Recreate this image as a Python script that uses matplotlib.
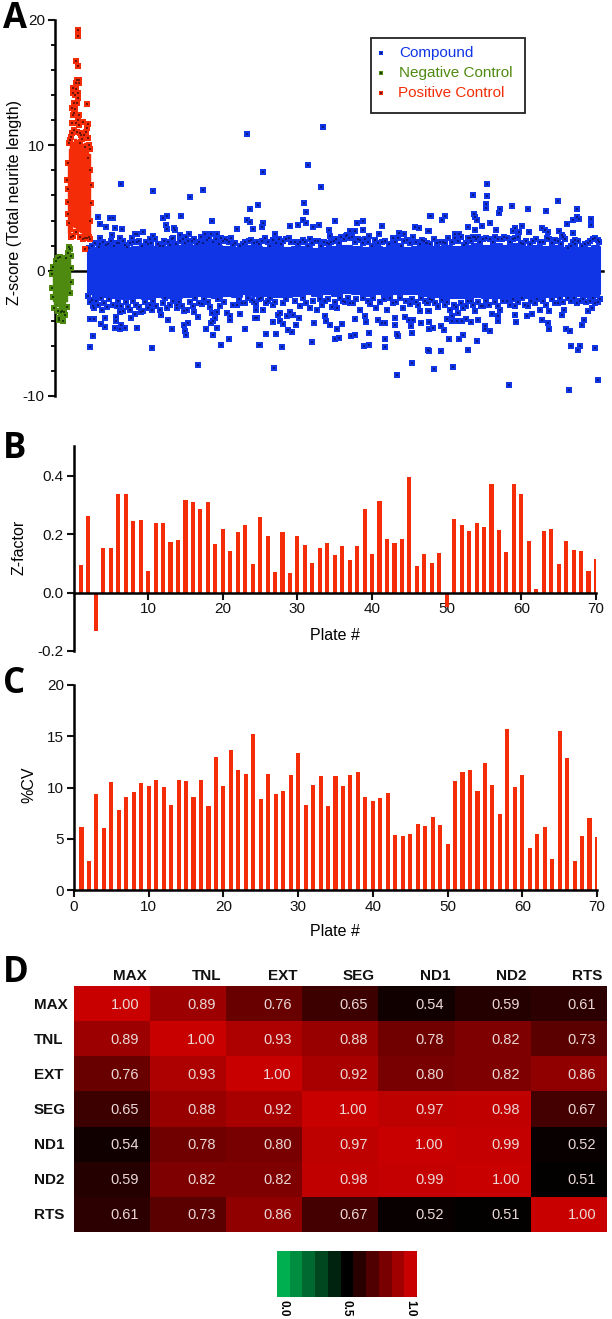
import numpy as np
import matplotlib
matplotlib.use('Agg')
import matplotlib.pyplot as plt
from matplotlib.colors import LinearSegmentedColormap
from matplotlib.patches import Rectangle

W = 612
H = 1319
plt.rcParams['font.family'] = ['Liberation Sans', 'DejaVu Sans']
plt.rcParams['axes.unicode_minus'] = False

BLUE = '#0f35e6'
GREEN = '#4f8a10'
RED = '#f42c08'
DARK_BLUE = '#0a1a80'
DARK_GREEN = '#1c3a08'
DARK_RED = '#701408'

# panel A, dense part of each group (position along the run, z-score limits)
band_x = [88, 97, 107, 117, 127, 137, 147, 157, 167, 177, 187, 197, 207, 217, 227, 237, 247, 257,
          267, 277, 287, 297, 307, 317, 327, 337, 347, 357, 367, 377, 387, 397, 407, 417, 427, 437,
          447, 457, 467, 477, 487, 497, 507, 517, 527, 537, 547, 557, 567, 577, 587, 597, 600]
band_hi = [1.6, 1.8, 1.9, 1.9, 1.8, 1.9, 2.0, 1.9, 1.9, 2.0, 2.1, 2.0, 2.1, 2.0, 1.9, 1.8, 2.0, 1.9,
           1.8, 1.9, 1.8, 1.9, 1.9, 1.7, 1.8, 1.9, 2.0, 1.9, 1.8, 1.9, 1.8, 2.0, 1.8, 1.9, 1.9, 1.9,
           2.0, 1.9, 2.0, 2.1, 2.0, 2.1, 2.0, 2.1, 1.9, 2.0, 1.9, 2.0, 1.8, 1.8, 1.8, 2.0, 1.9]
band_lo = [-1.9, -2.2, -2.1, -2.2, -2.3, -2.2, -2.3, -2.1, -2.2, -2.2, -2.1, -2.0, -2.1, -2.2, -2.0, -2.1, -1.9, -2.0,
           -2.0, -2.1, -2.1, -2.0, -1.9, -2.0, -1.9, -2.0, -1.8, -1.9, -2.0, -1.9, -2.0, -1.9, -1.9, -1.9, -2.0, -2.1,
           -2.2, -2.2, -2.2, -2.1, -2.2, -2.2, -2.1, -2.2, -2.2, -2.1, -2.1, -2.1, -2.0, -2.0, -2.1, -2.1, -1.9]

# panel A, single compounds that stand clear of the band
compound_x = [247, 121, 153, 203, 190, 258, 250, 98, 110, 113, 163, 167, 181, 212, 247, 250, 100, 106, 115, 122,
              166, 167, 174, 175, 237, 253, 143, 112, 135, 137, 153, 150, 180, 189, 205, 211, 217, 100, 120, 132,
              164, 173, 186, 201, 221, 227, 198, 152, 90, 93, 229, 221, 259, 186, 213, 185, 245, 217, 206, 172,
              137, 125, 120, 115, 105, 101, 121, 116, 168, 188, 184, 211, 213, 198, 230, 105, 90, 94, 131, 257,
              116, 152, 135, 141, 102, 120, 161, 177, 184, 194, 217, 240, 256,
              323, 308, 263, 321, 304, 306, 303, 306, 335, 357, 363, 263, 262, 290, 298, 313, 319, 382, 415, 419,
              430, 329, 350, 355, 363, 428, 399, 404, 275, 253, 347, 330, 369, 379, 265,
              274, 397, 412, 428, 312, 260, 282, 364, 369, 385, 385, 335, 339, 351, 355, 369, 397, 398, 412, 266,
              276, 288, 292, 337, 330, 342, 314, 296, 273, 283, 280, 326, 366, 382, 385, 395, 411, 429, 421, 429,
              255, 299, 355, 378, 409, 413, 325, 278, 287, 405, 395, 420, 428,
              487, 473, 487, 486, 486, 558, 512, 528, 546, 577, 500, 499, 431, 445, 442, 474, 475, 477, 490, 482,
              468, 475, 496, 522, 515, 513, 519, 529, 542, 545, 548, 559, 567, 573, 577, 579, 591, 591, 573, 429,
              455, 459, 470, 475, 562, 575, 593,
              509, 569, 598, 434, 453, 429, 441, 468, 571, 580, 578, 595, 449, 459, 463, 477, 441, 444, 429, 433,
              429, 485, 490, 485, 498, 516, 542, 548, 549, 566, 570, 582, 584, 478, 471, 466, 462, 457, 452, 447,
              498, 527, 532, 562, 564, 588, 592, 429, 438]
compound_z = [10.9, 6.88, 6.37, 6.43, 5.9, 5.23, 4.89, 4.25, 4.2, 4.22, 4.2, 4.36, 4.36, 3.96, 4.01, 3.88, 3.69, 3.5, 3.43, 3.32,
              3.64, 3.29, 3.37, 3.21, 3.35, 3.35, 3.05, 2.84, 2.92, 2.95, 2.76, 2.52, 2.82, 2.95, 2.95, 2.9, 2.95, 2.58, 2.58, 2.58,
              2.36, 2.63, 2.68, 2.66, 2.63, 2.47, -7.54, -6.14, -6.06, -5.18, -5.42, -5.92, -5.92, -5.1, -5.1, -4.83, -4.65, -4.57, -4.65, -4.65,
              -4.57, -4.57, -4.65, -4.6, -4.49, -4.22, -4.33, -4.04, -3.96, -4.2, -4.3, -4.2, -4.04, -3.69, -3.9, -3.8, -3.82, -3.88, -3.8, -3.77,
              -3.67, -3.16, -3.43, -3.32, -3.16, -3.27, -3.56, -3.0, -3.21, -3.32, -3.32, -3.45, -3.11,
              11.45, 8.47, 7.91, 6.69, 5.42, 4.67, 4.01, 3.77, 3.96, 3.82, 3.96, 3.77, 3.45, 3.53, 3.67, 3.48, 3.61, 3.53, 3.48, 3.43,
              4.38, 3.24, 3.13, 3.16, 3.24, 3.13, 3.0, 2.95, 2.95, 3.35, 2.84, 2.74, 2.79, 2.92, 2.58,
              -7.73, -8.29, -7.38, -6.35, -5.66, -5.9, -6.08, -6.03, -5.9, -6.06, -5.47, -5.44, -5.34, -5.21, -5.13, -4.97, -5.07, -5.23, -4.97, -5.02,
              -5.07, -4.75, -4.91, -4.65, -4.33, -4.28, -4.2, -4.33, -4.12, -4.22, -4.04, -4.01, -4.09, -4.17, -4.2, -4.3, -4.44, -4.62, -4.2, -4.09,
              -3.75, -3.8, -3.82, -3.9, -3.93, -3.93, -3.64, -3.5, -3.64, -3.69, -3.77, -3.24, -3.24,
              6.88, 6.0, 5.92, 5.29, 5.02, 5.52, 5.13, 4.94, 4.75, 4.94, 4.89, 4.62, 4.38, 4.33, 4.06, 4.49, 4.28, 4.01, 3.77, 3.56,
              3.5, 3.21, 3.24, 3.56, 3.43, 3.13, 3.05, 3.05, 3.43, 3.24, 3.11, 3.13, 3.69, 4.04, 4.28, 4.12, 4.09, 3.64, 2.97, 3.13,
              2.9, 2.9, 2.63, 2.68, 2.87, 2.47, 2.52,
              -9.11, -9.54, -8.69, -7.81, -7.68, -6.37, -6.43, -6.29, -5.98, -6.03, -6.29, -6.14, -5.44, -5.42, -5.15, -5.58, -4.44, -4.73, -4.62, -4.54,
              -4.09, -4.44, -4.78, -4.65, -4.01, -4.09, -3.96, -4.17, -4.62, -4.62, -4.81, -4.3, -3.96, -3.93, -4.09, -3.85, -3.98, -4.01, -4.04, -3.82,
              -3.64, -3.59, -3.43, -3.5, -3.11, -3.24, -2.97, -3.21, -2.92]

# panel A, compounds along the top and bottom edge of the band
fringe_x = [257, 265, 273, 279, 286, 289, 295, 300, 303, 310, 318, 327, 331, 336, 341, 346, 352, 360, 365, 375, 382, 393, 398, 407, 413, 422, 426,
            256, 263, 268, 273, 280, 290, 293, 300, 310, 317, 325, 332, 337, 345, 353, 360, 365, 370, 376, 387, 393, 403, 410, 418, 427,
            100, 106, 117, 125, 130, 137, 148, 160, 170, 180, 192, 197, 207, 223, 233, 243, 251,
            92, 94, 98, 107, 117, 123, 130, 143, 148, 160, 167, 177, 187, 193, 202, 212, 215, 227, 230, 237, 245, 252,
            427, 440, 445, 455, 464, 468, 473, 478, 483, 490, 495, 502, 507, 515, 523, 533, 540, 549, 555, 563, 568, 575, 582, 588, 593, 598,
            428, 432, 442, 445, 450, 452, 458, 463, 468, 475, 483, 492, 500, 507, 515, 515, 528, 540, 549, 558, 568, 580, 590, 598]
fringe_z = [2.26, 2.58, 2.42, 2.52, 2.52, 2.63, 2.26, 2.26, 2.47, 2.52, 2.39, 2.2, 2.26, 2.52, 2.68, 2.79, 2.68, 2.47, 2.52, 2.42, 2.26, 2.63, 2.58, 2.42, 2.68, 2.47, 2.2,
            -2.63, -3.16, -2.44, -2.71, -3.37, -3.32, -3.5, -2.84, -2.97, -3.16, -2.44, -2.9, -2.97, -2.52, -2.58, -3.11, -3.64, -2.63, -2.97, -3.16, -2.58, -2.97, -2.63, -2.71, -2.58,
            2.1, 2.05, 2.2, 2.07, 2.2, 2.26, 2.15, 2.0, 2.07, 2.34, 2.34, 2.15, 2.42, 2.34, 2.07, 2.15, 2.42,
            -2.31, -2.97, -2.71, -2.9, -2.84, -3.24, -3.11, -3.24, -2.97, -3.11, -2.97, -2.71, -3.16, -2.84, -2.63, -3.37, -3.77, -3.37, -3.64, -2.71, -2.58, -2.31,
            2.2, 2.26, 2.2, 2.6, 2.07, 2.6, 2.68, 2.68, 2.52, 2.52, 2.68, 2.52, 2.6, 2.6, 2.15, 2.34, 2.26, 2.52, 2.42, 2.68, 1.8, 2.15, 1.94, 2.2, 2.52, 2.42,
            -2.58, -2.31, -2.31, -2.71, -3.11, -3.64, -3.37, -2.97, -2.44, -3.24, -2.84, -3.43, -3.11, -2.44, -3.5, -2.84, -2.84, -3.11, -3.24, -2.58, -2.18, -2.44, -2.44, -2.52]

# estimated closer to the solid part, where single marks are hard to tell apart
edge_top_x = [89, 92, 95, 99, 103, 108, 111, 114, 119, 123, 127, 133, 139, 142, 146, 151, 155, 158, 163, 168, 172, 176, 183, 185, 188, 194, 199, 203, 209, 213, 216, 219,
              225, 229, 231, 235, 240, 245, 249, 254, 259, 262, 268, 270, 276, 281, 283, 291, 298, 305, 308, 312, 315, 321, 324, 329, 334, 339, 344, 349, 355, 358, 363, 368, 372, 378,
              385, 389, 395, 401, 404, 410, 416, 420, 424, 430, 434, 437, 443, 448, 452, 458, 461, 466, 471, 476, 480, 486, 493, 498, 504, 510, 513, 518, 521, 526, 530, 536, 543, 547, 552, 558, 561, 565, 571, 573, 578, 585, 590, 595, 599]
edge_top_z = [1.8, 2.0, 2.2, 1.9, 2.3, 2.1, 2.4, 2.0, 2.2, 2.4, 1.9, 2.3, 2.4, 2.0, 2.3, 2.2, 2.5, 2.1, 2.0, 2.3, 2.5, 2.1, 2.5, 2.2, 2.4, 2.5, 2.3, 2.2, 2.6, 2.3, 2.5, 2.1,
              2.5, 2.3, 2.6, 2.2, 2.0, 2.3, 2.4, 2.2, 2.1, 2.4, 2.3, 2.0, 2.2, 2.1, 2.4, 2.3, 2.1, 2.3, 2.0, 2.2, 2.4, 2.0, 2.3, 2.1, 2.4, 2.2, 2.5, 2.6, 2.3, 2.5, 2.2, 2.3, 2.0, 2.2,
              2.4, 2.1, 2.3, 2.0, 2.4, 2.2, 2.3, 2.1, 2.4, 2.1, 2.5, 2.2, 2.3, 2.6, 2.3, 2.4, 2.7, 2.2, 2.4, 2.5, 2.3, 2.6, 2.3, 2.5, 2.7, 2.3, 2.5, 2.7, 2.2, 2.4, 2.1, 2.5, 2.3, 2.6, 2.2, 2.4, 2.1, 2.5, 2.0, 2.3, 2.4, 2.1, 2.4, 2.6, 2.3]
edge_bot_x = [88, 90, 93, 96, 101, 104, 109, 113, 118, 121, 126, 128, 133, 136, 139, 145, 150, 153, 156, 163, 165, 170, 173, 179, 182, 190, 195, 199, 204, 208, 210, 218, 220, 224, 233, 239, 242, 248, 254, 259,
              261, 266, 270, 275, 283, 286, 295, 303, 306, 313, 320, 322, 328, 335, 340, 343, 348, 350, 356, 363, 368, 373, 380, 384, 390, 396, 400, 406, 412, 416, 421, 425,
              430, 435, 438, 447, 454, 456, 461, 466, 471, 473, 478, 481, 486, 489, 495, 498, 503, 510, 513, 518, 522, 525, 531, 535, 537, 543, 546, 552, 555, 560, 563, 571, 574, 577, 583, 586, 593, 595, 600]
edge_bot_z = [-2.0, -2.5, -2.8, -2.4, -2.2, -2.6, -2.3, -2.7, -2.4, -2.8, -2.5, -2.9, -2.4, -2.7, -2.9, -2.5, -2.7, -2.4, -2.8, -2.6, -2.2, -2.7, -2.4, -2.5, -2.8, -2.5, -2.2, -2.6, -2.3, -2.5, -2.9, -2.3, -2.8, -2.5, -2.7, -2.3, -2.6, -2.2, -2.5, -2.3,
              -2.2, -2.6, -2.2, -2.5, -2.6, -2.3, -2.4, -2.2, -2.6, -2.4, -2.3, -2.7, -2.3, -2.5, -2.2, -2.4, -2.2, -2.6, -2.3, -2.2, -2.4, -2.2, -2.5, -2.3, -2.2, -2.5, -2.2, -2.4, -2.3, -2.5, -2.2, -2.4,
              -2.3, -2.6, -2.8, -2.5, -2.7, -2.9, -2.6, -2.8, -2.4, -2.7, -2.5, -2.8, -2.4, -2.7, -2.5, -2.8, -2.4, -2.7, -2.3, -2.5, -2.2, -2.7, -2.4, -2.6, -2.3, -2.4, -2.7, -2.3, -2.6, -2.2, -2.5, -2.4, -2.2, -2.6, -2.3, -2.5, -2.2, -2.6, -2.3]

# panel A, controls
pos_band_x = [68, 69, 71, 73, 75, 77, 79, 81, 83, 85, 87, 89, 90]
pos_band_hi = [8.5, 9.7, 10.2, 10.3, 10.5, 10.3, 10.5, 10.0, 10.1, 10.2, 9.9, 9.3, 6.9]
pos_band_lo = [3.0, 3.0, 3.2, 3.6, 3.5, 3.3, 3.2, 3.1, 2.9, 2.9, 3.0, 2.9, 3.0]
pos_x = [78, 78, 76, 78, 87, 73, 76, 77, 79, 85, 72, 73, 74, 75, 76, 77, 78, 79, 79, 78, 80, 83, 86, 88, 87, 88, 89, 90,
         71, 81, 69, 70, 72, 74, 73, 75, 77, 79, 80, 82, 84, 85, 88, 90, 91, 91, 90, 68, 67, 68, 69, 71, 73, 76, 80, 83, 85, 87, 89, 90, 68, 68, 74, 76, 72, 78]
pos_z = [19.2, 18.75, 16.73, 16.3, 13.3, 14.6, 14.5, 15.2, 15.2, 1.73, 13.0, 14.2, 12.6, 14.0, 11.8, 13.4, 13.8, 15.0, 12.4, 12.0, 11.0, 11.9, 11.1, 11.7, 11.4, 10.6, 10.0, 9.7,
         10.7, 10.8, 10.2, 10.4, 11.8, 11.2, 12.4, 12.9, 11.1, 11.6, 10.2, 10.5, 10.8, 9.9, 9.0, 8.0, 6.8, 5.4, 4.0, 8.6, 7.2, 5.5, 3.8, 2.7, 2.8, 3.1, 2.7, 2.5, 2.6, 2.6, 2.7, 2.5, 6.5, 4.5, 13.4, 15.0, 11.0, 14.2]
neg_band_x = [53, 54, 56, 58, 60, 62, 64, 66, 68, 70]
neg_band_hi = [0.1, 0.4, 0.6, 0.8, 1.0, 0.9, 1.0, 1.0, 1.6, 1.7]
neg_band_lo = [-2.4, -2.7, -2.6, -2.8, -2.9, -3.0, -2.9, -2.4, -1.8, -1.5]
neg_x = [59, 63, 59, 65, 61, 58, 64, 67, 70, 53, 54, 56, 58, 60, 62, 66, 68, 69, 70, 71, 71, 71, 52, 52, 53]
neg_z = [-3.77, -4.04, -3.96, -3.5, -3.3, -3.2, -3.3, -2.9, -1.8, 0.3, -3.0, 0.8, 1.0, 1.1, -3.2, 1.0, 1.4, 1.9, 1.7, 1.2, 0.2, -0.9, -0.3, -1.4, -2.1]

# panels B and C
plates = list(range(1, 71))
z_factor = [0.095, 0.262, -0.133, 0.152, 0.152, 0.337, 0.337, 0.246, 0.248, 0.075,
            0.238, 0.239, 0.172, 0.181, 0.317, 0.311, 0.285, 0.309, 0.165, 0.217,
            0.141, 0.209, 0.231, 0.098, 0.26, 0.195, 0.071, 0.208, 0.066, 0.192,
            0.164, 0.102, 0.154, 0.17, 0.128, 0.159, 0.112, 0.158, 0.285, 0.131,
            0.313, 0.185, 0.169, 0.185, 0.397, 0.09, 0.131, 0.1, 0.137, -0.05,
            0.253, 0.231, 0.21, 0.237, 0.225, 0.371, 0.215, 0.139, 0.37, 0.339,
            0.178, 0.011, 0.211, 0.217, 0.098, 0.175, 0.145, 0.142, 0.075, 0.114]
cv = [6.11, 2.8, 9.37, 6.08, 10.57, 7.84, 9.04, 9.59, 10.44, 10.18,
      10.7, 10.08, 8.26, 10.76, 10.63, 9.07, 10.73, 8.2, 12.94, 10.15,
      13.69, 11.71, 11.32, 15.25, 8.88, 11.28, 9.37, 9.69, 11.19, 13.33,
      8.33, 10.24, 11.12, 8.2, 11.12, 10.18, 11.19, 11.54, 9.1, 8.65,
      8.94, 9.5, 5.33, 5.27, 5.43, 6.41, 6.24, 7.09, 6.34, 4.52,
      10.63, 11.48, 11.67, 9.63, 12.36, 10.21, 7.45, 15.74, 10.08, 11.25,
      4.13, 5.43, 6.11, 2.99, 15.48, 12.91, 2.83, 5.24, 7.02, 5.14]

# panel D
features = ['MAX', 'TNL', 'EXT', 'SEG', 'ND1', 'ND2', 'RTS']
corr = [[1.00, 0.89, 0.76, 0.65, 0.54, 0.59, 0.61],
        [0.89, 1.00, 0.93, 0.88, 0.78, 0.82, 0.73],
        [0.76, 0.93, 1.00, 0.92, 0.80, 0.82, 0.86],
        [0.65, 0.88, 0.92, 1.00, 0.97, 0.98, 0.67],
        [0.54, 0.78, 0.80, 0.97, 1.00, 0.99, 0.52],
        [0.59, 0.82, 0.82, 0.98, 0.99, 1.00, 0.51],
        [0.61, 0.73, 0.86, 0.67, 0.52, 0.51, 1.00]]
scale_levels = [0.0, 0.1, 0.2, 0.3, 0.4, 0.5, 0.6, 0.7, 0.8, 0.9, 1.0]
scale_labels = ['0.0', '0.5', '1.0']


def ax_px(left, top, right, bottom):
    return fig.add_axes([left / W, 1 - bottom / H, (right - left) / W, (bottom - top) / H])


def label_px(axis, left, top, right, bottom, x, y):
    axis.set_label_coords((x - left) / (right - left), (bottom - y) / (bottom - top))


def style_axes(ax):
    ax.spines['top'].set_visible(False)
    ax.spines['right'].set_visible(False)
    ax.spines['left'].set_linewidth(1.8)
    ax.spines['bottom'].set_linewidth(1.8)
    ax.tick_params(axis='both', which='major', width=1.5, length=5, labelsize=11, pad=2, colors='#111111')
    ax.patch.set_alpha(0)


def points(ax, x, y, color, dark, z=4):
    ax.scatter(x, y, s=15, marker='s', color=color, linewidths=0, zorder=z, clip_on=False)
    ax.scatter(x, y, s=2, marker='s', color=dark, linewidths=0, zorder=z + 1, clip_on=False)


fig = plt.figure(figsize=(W / 100, H / 100), dpi=100)

# A
box = (54.5, 20, 603, 396)
ax = ax_px(*box)
style_axes(ax)
ax.fill_between(band_x, band_lo, band_hi, color=BLUE, step='mid', linewidth=1.5, zorder=3)
points(ax, edge_top_x, edge_top_z, BLUE, DARK_BLUE)
points(ax, edge_bot_x, edge_bot_z, BLUE, DARK_BLUE)
points(ax, fringe_x, fringe_z, BLUE, DARK_BLUE)
points(ax, compound_x, compound_z, BLUE, DARK_BLUE)
ax.fill_between(neg_band_x, neg_band_lo, neg_band_hi, color=GREEN, step='mid', linewidth=1, zorder=6, clip_on=False)
points(ax, neg_x, neg_z, GREEN, DARK_GREEN, 7)
ax.fill_between(pos_band_x, pos_band_lo, pos_band_hi, color=RED, step='mid', linewidth=1, zorder=6)
points(ax, pos_x, pos_z, RED, DARK_RED, 7)
ax.set_xlim(54.5, 603)
ax.set_ylim(-10, 20)
ax.spines['bottom'].set_position(('data', 0))
ax.set_xticks([])
ax.set_yticks([-10, 0, 10, 20])
ax.set_yticks([-8, -6, -4, -2, 2, 4, 6, 8, 12, 14, 16, 18], minor=True)
ax.tick_params(axis='y', which='minor', width=1.3, length=3)
ax.set_ylabel('Z-score (Total neurite length)', fontsize=11.5, va='center')
label_px(ax.yaxis, *box, 15, 203)

# B
box = (73.5, 446.5, 596, 651)
ax = ax_px(*box)
style_axes(ax)
ax.bar(plates, z_factor, width=0.55, color=RED, linewidth=0, zorder=2)
ax.set_xlim(0, 70)
ax.set_ylim(-0.2, 0.5)
ax.spines['bottom'].set_position(('data', 0))
ax.spines['bottom'].set_zorder(3)
ax.set_xticks([10, 20, 30, 40, 50, 60, 70])
ax.set_yticks([-0.2, 0.0, 0.2, 0.4])
ax.set_xlabel('Plate #', fontsize=11.5, va='center')
ax.set_ylabel('Z-factor', fontsize=11.5, va='center')
label_px(ax.xaxis, *box, 335, 635)
label_px(ax.yaxis, *box, 19, 547)

# C
box = (74, 685, 597, 890)
ax = ax_px(*box)
style_axes(ax)
ax.bar(plates, cv, width=0.55, color=RED, linewidth=0, zorder=2)
ax.set_xlim(0, 70)
ax.set_ylim(0, 20)
ax.set_xticks([0, 10, 20, 30, 40, 50, 60, 70])
ax.set_yticks([0, 5, 10, 15, 20])
ax.set_xlabel('Plate #', fontsize=11.5, va='center')
ax.set_ylabel('%CV', fontsize=11.5, va='center')
label_px(ax.xaxis, *box, 335, 932)
label_px(ax.yaxis, *box, 29, 785)

# D
heat_cmap = LinearSegmentedColormap.from_list('gbr', ['#00b050', '#000000', '#c80000'])
ax = ax_px(74, 986, 607, 1232)
ax.imshow(corr, cmap=heat_cmap, vmin=0, vmax=1, aspect='auto', interpolation='nearest')
ax.axis('off')
for i, row in enumerate(corr):
    ax.text(-1.03, i + 0.03, features[i], fontsize=11, fontweight='bold', ha='left', va='center', color='#111111')
    ax.text(i + 0.24, -0.78, features[i], fontsize=11, fontweight='bold', ha='center', va='center', color='#111111')
    for j, val in enumerate(row):
        ax.text(j + 0.17, i + 0.03, '%.2f' % val, fontsize=10.5, ha='center', va='center', color='#ecd8d8')

# colour scale
ax = ax_px(277, 1251, 417, 1297)
ax.imshow([scale_levels], cmap=heat_cmap, vmin=0, vmax=1, aspect='auto', interpolation='nearest')
ax.set_yticks([])
ax.set_xticks([0, 5, 10])
ax.set_xticklabels(scale_labels, rotation=-90, fontsize=8.5, fontweight='bold')
ax.tick_params(axis='x', length=0, pad=2)
for s in ax.spines.values():
    s.set_visible(False)

# overlay in picture pixels for letters and the legend
top = fig.add_axes([0, 0, 1, 1])
top.set_xlim(0, W)
top.set_ylim(H, 0)
top.axis('off')
top.patch.set_alpha(0)
for letter, y in zip('ABCD', [28, 458, 693, 982]):
    top.text(3, y, letter, fontsize=25, fontweight='bold', family=['Open Sans', 'DejaVu Sans'], ha='left', va='baseline', color='black')
top.add_patch(Rectangle((371, 38), 154, 74.5, facecolor='white', edgecolor='#222222', linewidth=1.3))
legend_names = ['Compound', 'Negative Control', 'Positive Control']
legend_cols = [BLUE, GREEN, RED]
legend_dark = [DARK_BLUE, DARK_GREEN, DARK_RED]
for k in range(3):
    yy = 53 + k * 20
    top.scatter([381], [yy], s=10, marker='s', color=legend_cols[k], linewidths=0)
    top.scatter([381], [yy], s=2, marker='s', color=legend_dark[k], linewidths=0)
    top.text(399 - (k == 2), yy, legend_names[k], fontsize=11, color=legend_cols[k], ha='left', va='center')

fig.savefig('out.png', dpi=100)
